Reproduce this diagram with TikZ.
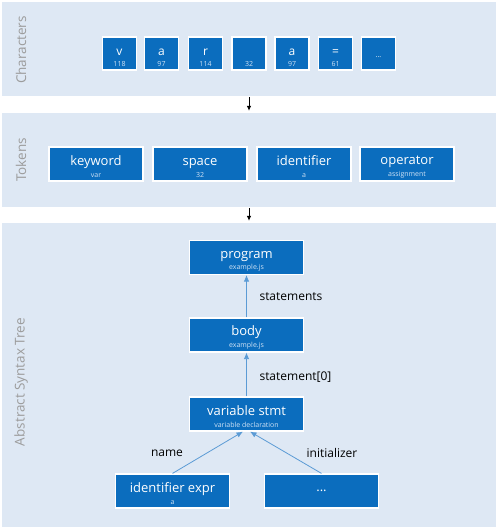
\documentclass[tikz,border=0pt]{standalone}
\usepackage{fontspec}
\setmainfont{Open Sans}
\usetikzlibrary{positioning,arrows.meta}

\definecolor{panelbg}{HTML}{DEE8F4}
\definecolor{boxblue}{HTML}{0B6DBE}
\definecolor{subblue}{HTML}{CFE2F5}
\definecolor{edgeblue}{HTML}{5B9BD5}
\definecolor{sidegray}{HTML}{9C9C9C}

\newcommand{\boxtxt}[2]{\rule{0pt}{15pt}#1\\[-2.5pt]{\color{subblue}\fontsize{7}{7.5}\selectfont #2}}

\tikzset{
	panel/.style={fill=panelbg, inner sep=0pt, minimum width=494pt},
	sidelabel/.style={rotate=90, text=sidegray, font=\fontsize{13.5}{15}\selectfont},
	charbox/.style={fill=boxblue, draw=white, line width=1.2pt, text=white, align=center,
		minimum width=34pt, minimum height=33pt, inner sep=0pt, font=\fontsize{12}{13}\selectfont},
	tokbox/.style={charbox, minimum width=94pt, minimum height=34pt, font=\fontsize{13}{14}\selectfont},
	astbox/.style={tokbox, minimum width=114pt},
	flow/.style={-{Latex[length=5pt,width=4.5pt]}, black, line width=0.8pt, shorten >=2pt, shorten <=1pt},
	edge/.style={-{Latex[length=6.5pt,width=5.5pt]}, edgeblue, line width=0.8pt},
	elabel/.style={font=\fontsize{12}{13}\selectfont, text=black}
}

\begin{document}
\begin{tikzpicture}[x=1pt, y=1pt]
	\useasboundingbox (0, 0) rectangle (498, -530);

	% Panels
	\node[panel, minimum height=94pt] (chars) at (249, -49) {};
	\node[panel, minimum height=94pt] (tokens) at (249, -160) {};
	\node[panel, minimum height=304pt] (ast) at (249, -375) {};

	\node[sidelabel] (charslabel) at (21, -50) {Characters};
	\node[sidelabel] (tokenslabel) at (21, -160) {Tokens};
	\node[sidelabel] (astlabel) at (21, -382) {Abstract Syntax Tree};

	\draw[flow] (chars.south) -- (tokens.north);
	\draw[flow] (tokens.south) -- (ast.north);

	% Characters
	\node[charbox] (c1) at (119.5, -53.5) {\boxtxt{v}{118}};
	\node[charbox] (c2) at (161.5, -53.5) {\boxtxt{a}{97}};
	\node[charbox] (c3) at (205.5, -53.5) {\boxtxt{r}{114}};
	\node[charbox] (c4) at (249, -53.5) {\boxtxt{\strut}{32}};
	\node[charbox] (c5) at (292, -53.5) {\boxtxt{a}{97}};
	\node[charbox] (c6) at (335.5, -53.5) {\boxtxt{=}{61}};
	\node[charbox, font=\fontsize{7}{8}\selectfont] (c7) at (378.5, -53.5) {\raisebox{-4pt}[0pt][0pt]{...}};

	% Tokens
	\node[tokbox] (keyword) at (96, -164) {\boxtxt{keyword}{var}};
	\node[tokbox] (space) at (200, -164) {\boxtxt{space}{32}};
	\node[tokbox] (ident) at (304, -164) {\boxtxt{identifier}{a}};
	\node[tokbox] (operator) at (407, -164) {\boxtxt{operator}{assignment}};

	% Tree
	\node[astbox] (program) at (246.5, -257.5) {\boxtxt{program}{example.js}};
	\node[astbox] (body) at (246.5, -335) {\boxtxt{body}{example.js}};
	\node[astbox] (varstmt) at (246.5, -414) {\boxtxt{variable stmt}{variable declaration}};
	\node[astbox] (idexpr) at (172.5, -491) {\boxtxt{identifier expr}{a}};
	\node[astbox] (init) at (321.5, -491) {...};

	\draw[edge] (body.north) -- (program.south);
	\draw[edge] (varstmt.north) -- (body.south);
	\draw[edge] (idexpr.north) -- ([xshift=-3.5pt]varstmt.south);
	\draw[edge] (init.north) -- ([xshift=3.5pt]varstmt.south);

	% Labels
	\node[elabel, anchor=west] (statements) at (256, -297) {statements};
	\node[elabel, anchor=west] (statement0) at (256, -377) {statement[0]};
	\node[elabel] (name) at (167, -453) {name};
	\node[elabel] (initializer) at (332, -453) {initializer};
\end{tikzpicture}
\end{document}
